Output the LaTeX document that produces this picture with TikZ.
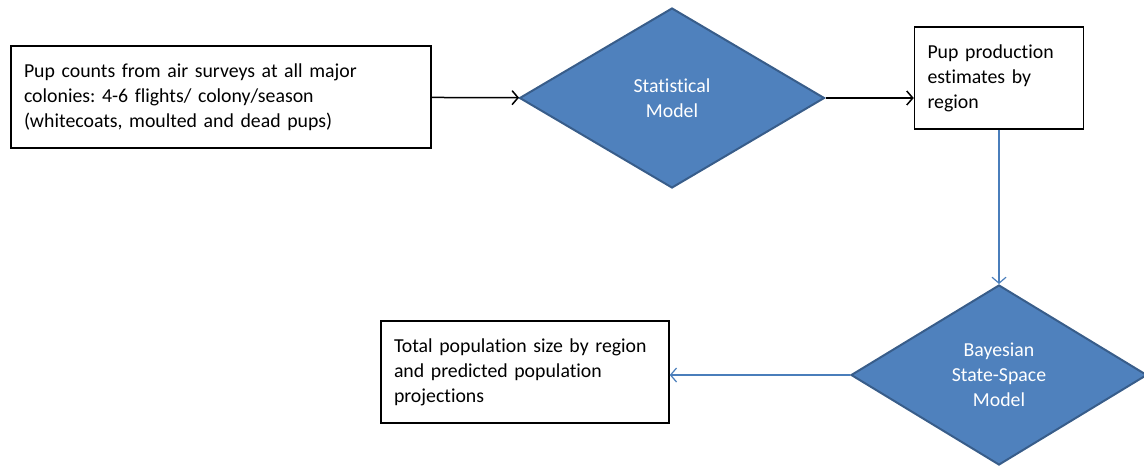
\documentclass[tikz,border=0pt]{standalone}
\usepackage{fontspec}
\setmainfont[Ligatures={NoCommon}]{Carlito}
\usetikzlibrary{shapes.geometric,arrows.meta,positioning}
\definecolor{modelblue}{HTML}{4F81BD}
\definecolor{modeledge}{HTML}{385D8A}
\definecolor{linkblue}{HTML}{4A7EBB}
\frenchspacing
\begin{document}
\begin{tikzpicture}[x=1pt,y=-1pt,
	font=\fontsize{19.8}{25}\selectfont,
	databox/.style={rectangle,draw,line width=1.5pt,align=left,inner xsep=13pt,minimum height=102pt},
	model/.style={diamond,draw=modeledge,fill=modelblue,line width=2pt,text=white,align=center,minimum height=180pt},
	flow/.style={line width=1.5pt,-{Straight Barb[length=6pt,width=14pt]}},
	link/.style={draw=linkblue,line width=1.2pt,-{Straight Barb[length=6pt,width=14pt]}}]
		\useasboundingbox (0,0) rectangle (1144,467);
		\node[databox,text width=394pt](counts) at (221,97){Pup counts from air surveys at all major\\colonies: 4-6 flights/ colony/season\\(whitecoats, moulted and dead pups)};
		\node[model,minimum width=305pt](stat) at (672,98){Statistical\\Model};
		\node[databox,text width=143pt](estimates) at (999,78){Pup production\\estimates by\\region};
		\node[model,minimum width=296pt](bayes) at (999,375){Bayesian\\State-Space\\Model};
		\node[databox,text width=262pt](total) at (525,372){Total population size by region\\and predicted population\\projections};
		\draw[flow] (counts) -- (stat);
		\draw[flow] (stat.east) -- (stat.east -| estimates.west);
		\draw[link] (estimates) -- (bayes);
		\draw[link] (bayes.west) -- (bayes.west -| total.east);
		
		\end{tikzpicture}
\end{document}
